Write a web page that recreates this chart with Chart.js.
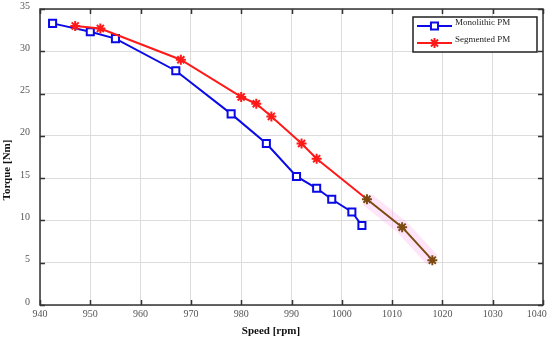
<!DOCTYPE html>
<html>
<head>
<meta charset="utf-8">
<script src="https://cdn.jsdelivr.net/npm/chart.js@4/dist/chart.umd.min.js"></script>
<style>
  html, body { margin: 0; padding: 0; background: #fff; }
  #wrap { width: 550px; height: 342px; }
</style>
</head>
<body>
<div id="wrap"><canvas id="torqueChart" width="550" height="342"></canvas></div>
<script>
// Monolithic PM
const monoSpeed = [942.5, 950, 955, 967, 978, 985, 991, 995, 998, 1002, 1004];
const monoTorque = [33.3, 32.3, 31.5, 27.7, 22.6, 19.1, 15.2, 13.8, 12.5, 11.0, 9.4];
// Segmented PM
const segSpeed = [947, 952, 968, 980, 983, 986, 992, 995, 1005, 1012, 1018];
const segTorque = [33.0, 32.7, 29.0, 24.6, 23.8, 22.3, 19.1, 17.3, 12.5, 9.2, 5.3];
// 轴刻度
const xTicks = [940, 950, 960, 970, 980, 990, 1000, 1010, 1020, 1030, 1040];
const yTicks = [0, 5, 10, 15, 20, 25, 30, 35];
const seriesNames = ['Monolithic PM', 'Segmented PM'];
const xTitle = 'Speed [rpm]';
const yTitle = 'Torque [Nm]';

const BLUE = '#0a0ae6';
const RED = '#ff1a1a';
const BROWN = '#7d4a12';
const FONT = '"Liberation Serif", "Times New Roman", serif';

function toPoints(xs, ys) {
    return xs.map((x, i) => ({ x: x, y: ys[i] }));
}

const segColors = segSpeed.map((s, i) => i >= 8 ? BROWN : RED);

// 边框、内侧刻度、轴标题和图例
const boxPlugin = {
    id: 'box',
    afterDatasetsDraw(chart) {
        const ctx = chart.ctx;
        const a = chart.chartArea;
        const xs = chart.scales.x, ys = chart.scales.y;
        ctx.save();
        ctx.strokeStyle = '#333';
        ctx.lineWidth = 1.5;
        ctx.strokeRect(a.left, a.top, a.right - a.left, a.bottom - a.top);
        ctx.beginPath();
        xTicks.forEach(v => {
            const px = Math.round(xs.getPixelForValue(v)) + 0.5;
            ctx.moveTo(px, a.bottom); ctx.lineTo(px, a.bottom - 5);
            ctx.moveTo(px, a.top); ctx.lineTo(px, a.top + 5);
        });
        yTicks.forEach(v => {
            const py = Math.round(ys.getPixelForValue(v)) + 0.5;
            ctx.moveTo(a.left, py); ctx.lineTo(a.left + 5, py);
            ctx.moveTo(a.right, py); ctx.lineTo(a.right - 5, py);
        });
        ctx.stroke();
        ctx.restore();
    },
    afterDraw(chart) {
        const ctx = chart.ctx;
        ctx.save();
        // 轴标题
        ctx.fillStyle = '#111';
        ctx.font = 'bold 11px ' + FONT;
        ctx.textAlign = 'center';
        ctx.textBaseline = 'middle';
        ctx.fillText(xTitle, 271, 331);
        ctx.save();
        ctx.translate(7, 170);
        ctx.rotate(-Math.PI / 2);
        ctx.fillText(yTitle, 0, 0);
        ctx.restore();

        // 图例
        const bx = 413, by = 17, bw = 124, bh = 35;
        ctx.fillStyle = '#fff';
        ctx.fillRect(bx, by, bw, bh);
        ctx.strokeStyle = '#222';
        ctx.lineWidth = 1.5;
        ctx.strokeRect(bx, by, bw, bh);
        const rows = [
            { y: 26, color: BLUE, style: 'rect', fill: '#fff' },
            { y: 43, color: RED, style: 'star', fill: RED }
        ];
        ctx.textAlign = 'left';
        rows.forEach((r, i) => {
            ctx.strokeStyle = r.color;
            ctx.lineWidth = 2;
            ctx.beginPath();
            ctx.moveTo(417, r.y); ctx.lineTo(452, r.y);
            ctx.stroke();
            ctx.fillStyle = r.fill;
            Chart.helpers.drawPoint(ctx, { pointStyle: r.style, radius: 5, borderWidth: 2, rotation: 0 }, 434.5, r.y);
            ctx.fillStyle = '#222';
            ctx.font = '9px ' + FONT;
            ctx.fillText(seriesNames[i], 455, r.y - 3);
        });
        ctx.restore();
    }
};

new Chart(document.getElementById('torqueChart'), {
    type: 'scatter',
    data: {
        datasets: [
            {
                label: 'halo',
                data: toPoints(segSpeed.slice(8), segTorque.slice(8)),
                showLine: true,
                borderColor: 'rgba(255, 170, 240, 0.3)',
                borderWidth: 14,
                pointRadius: 0,
                order: 3
            },
            {
                label: seriesNames[0],
                data: toPoints(monoSpeed, monoTorque),
                showLine: true,
                borderColor: BLUE,
                borderWidth: 2,
                pointStyle: 'rect',
                pointRadius: 5,
                pointBorderWidth: 2,
                pointBorderColor: BLUE,
                pointBackgroundColor: '#fff',
                order: 2
            },
            {
                label: seriesNames[1],
                data: toPoints(segSpeed, segTorque),
                showLine: true,
                borderColor: RED,
                borderWidth: 2,
                segment: {
                    borderColor: c => c.p0DataIndex >= 8 ? BROWN : RED
                },
                pointStyle: 'star',
                pointRadius: 5,
                pointBorderWidth: 2,
                pointBorderColor: segColors,
                pointBackgroundColor: segColors,
                order: 1
            }
        ]
    },
    options: {
        responsive: false,
        animation: false,
        layout: { padding: { left: 0, right: 4, top: 9, bottom: 0 } },
        plugins: {
            legend: { display: false },
            tooltip: { enabled: false }
        },
        scales: {
            x: {
                type: 'linear',
                min: 940,
                max: 1040,
                afterBuildTicks: s => { s.ticks = xTicks.map(v => ({ value: v })); },
                afterFit: s => { s.height = 37; s.paddingLeft = 0; s.paddingRight = 0; },
                grid: { color: '#dcdcdc', lineWidth: 1, drawTicks: false },
                border: { display: false },
                ticks: {
                    color: '#555', font: { family: FONT, size: 10 }, padding: 3, maxRotation: 0,
                    // 最后一个标签向左收一点，避免被裁掉
                    callback: v => v === 1040 ? String(v) + '     ' : String(v)
                },
                title: { display: false }
            },
            y: {
                min: 0,
                max: 35,
                afterBuildTicks: s => { s.ticks = yTicks.map(v => ({ value: v })); },
                afterFit: s => { s.width = 40; s.paddingTop = 0; s.paddingBottom = 0; },
                grid: { color: '#dcdcdc', lineWidth: 1, drawTicks: false },
                border: { display: false },
                ticks: { color: '#555', font: { family: FONT, size: 10 }, padding: 10, labelOffset: -3, callback: v => String(v) },
                title: { display: false }
            }
        }
    },
    plugins: [boxPlugin]
});
</script>
</body>
</html>
